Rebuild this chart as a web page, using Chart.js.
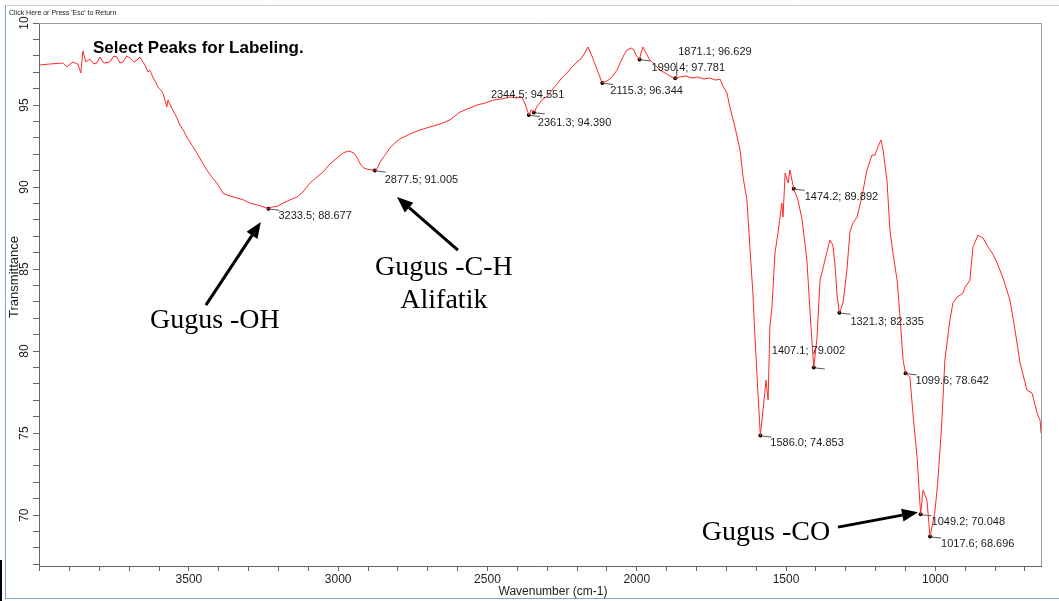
<!DOCTYPE html>
<html>
<head>
<meta charset="utf-8">
<script src="https://cdn.jsdelivr.net/npm/chart.js@4/dist/chart.umd.min.js"></script>
<style>
  html, body { margin: 0; padding: 0; background: #fff; }
  canvas { display: block; }
</style>
</head>
<body>
<canvas id="irChart" width="1059" height="601"></canvas>
<script>
// Spectrum: wavenumber (cm-1) and transmittance
const wavenumbers = [
  3999, 3966, 3922, 3909, 3889, 3872, 3862, 3855, 3845, 3832, 3818, 3808, 3798, 3785, 3765, 3751,
  3741, 3731, 3721, 3708, 3698, 3684, 3674, 3664, 3654, 3647, 3637, 3631, 3621, 3611, 3604, 3594,
  3587, 3580, 3574, 3570, 3564, 3554, 3540, 3530, 3517, 3507, 3490, 3473, 3456, 3440, 3423, 3406,
  3386, 3363, 3339, 3316, 3296, 3269, 3249, 3233.5, 3222, 3202, 3185, 3162, 3138, 3118, 3095, 3075,
  3051, 3028, 3004, 2984, 2967, 2954, 2944, 2934, 2924, 2914, 2904, 2877.5, 2870, 2860, 2843, 2827,
  2810, 2793, 2760, 2726, 2693, 2659, 2626, 2592, 2559, 2535, 2508, 2482, 2452, 2425, 2401, 2385,
  2374, 2361.3, 2354, 2344.5, 2331, 2314, 2301, 2284, 2267, 2251, 2234, 2217, 2200, 2187, 2174, 2164,
  2157, 2150, 2140, 2130, 2115.3, 2100, 2090, 2080, 2066, 2056, 2043, 2033, 2019, 2009, 2003, 1990.4,
  1986, 1979, 1969, 1956, 1939, 1922, 1905, 1889, 1871.1, 1855, 1835, 1815, 1795, 1775, 1755, 1735,
  1721, 1711, 1698, 1688, 1671, 1654, 1644, 1631, 1621, 1611, 1604, 1594, 1586.0, 1577, 1567, 1560,
  1554, 1547, 1537, 1527, 1514, 1510, 1503, 1493, 1487, 1474.2, 1460, 1446, 1436, 1430, 1420, 1407.1,
  1396, 1386, 1376, 1363, 1353, 1343, 1336, 1329, 1321.3, 1309, 1296, 1286, 1276, 1262, 1246, 1229,
  1212, 1202, 1192, 1182, 1175, 1162, 1152, 1142, 1128, 1118, 1108, 1099.6, 1085, 1075, 1061, 1049.2,
  1041, 1028, 1017.6, 1002, 992, 979, 968, 951, 941, 927, 917, 907, 900, 884, 874, 857,
  840, 823, 807, 793, 773, 750, 733, 716, 693, 676, 659, 649, 646
];
const transmittance = [
  97.44, 97.50, 97.56, 97.32, 97.62, 97.50, 96.95, 98.29, 97.62, 97.80, 97.50, 97.56, 97.93, 97.56, 97.62, 97.99,
  97.93, 97.56, 97.62, 97.99, 97.87, 97.62, 97.74, 97.93, 97.62, 97.44, 97.01, 97.13, 96.71, 96.40, 96.10, 95.91,
  95.73, 95.30, 94.88, 95.30, 95.06, 94.70, 94.21, 93.78, 93.41, 93.05, 92.56, 92.07, 91.52, 91.04, 90.61, 90.24,
  89.63, 89.45, 89.33, 89.21, 89.02, 88.90, 88.78, 88.677, 88.78, 88.84, 89.02, 89.21, 89.39, 89.70, 90.24, 90.55,
  90.91, 91.40, 91.77, 92.07, 92.20, 92.13, 92.01, 91.71, 91.34, 91.16, 91.10, 91.005, 91.10, 91.52, 91.95, 92.38,
  92.68, 92.93, 93.23, 93.48, 93.66, 93.84, 94.09, 94.57, 94.82, 95.00, 95.12, 95.30, 95.37, 95.49, 95.43, 95.49,
  95.06, 94.390, 94.70, 94.551, 95.00, 95.37, 95.49, 95.91, 96.28, 96.65, 96.95, 97.32, 97.62, 97.80, 98.17, 98.54,
  98.29, 97.99, 97.50, 97.01, 96.344, 96.46, 96.58, 96.77, 97.13, 97.56, 98.05, 98.35, 98.48, 98.35, 98.05, 97.781,
  98.17, 98.54, 98.17, 97.74, 97.44, 97.13, 96.95, 96.77, 96.629, 96.71, 96.77, 96.65, 96.71, 96.58, 96.65, 96.52,
  96.58, 96.16, 95.73, 94.88, 93.66, 92.26, 90.61, 89.21, 86.34, 83.54, 80.85, 77.44, 74.853, 76.40, 78.23, 77.01,
  81.46, 82.68, 85.98, 87.19, 89.02, 88.17, 90.85, 90.24, 91.04, 89.892, 89.21, 87.99, 86.46, 85.55, 82.50, 79.002,
  80.85, 84.33, 85.06, 86.04, 86.77, 86.46, 85.24, 83.41, 82.335, 82.93, 84.94, 87.26, 87.80, 88.17, 89.39, 91.04,
  91.95, 91.95, 92.44, 92.87, 92.26, 90.43, 87.38, 85.98, 84.33, 82.07, 79.45, 78.642, 78.41, 76.22, 73.54, 70.048,
  71.53, 70.91, 68.696, 70.12, 71.95, 75.37, 79.45, 81.89, 82.93, 83.29, 83.41, 83.54, 83.90, 84.33, 86.34, 87.07,
  86.89, 86.34, 85.91, 85.37, 84.45, 83.11, 81.28, 79.27, 77.62, 77.44, 76.22, 75.79, 75.00
];

// Labelled peaks
const peakWavenumbers = [3233.5, 2877.5, 2344.5, 2361.3, 2115.3, 1990.4, 1871.1, 1586.0, 1474.2, 1407.1, 1321.3, 1099.6, 1049.2, 1017.6];
const peakValues = [88.677, 91.005, 94.551, 94.390, 96.344, 97.781, 96.629, 74.853, 89.892, 79.002, 82.335, 78.642, 70.048, 68.696];
// pixel offset of each peak label from its dot
const labelOffsets = [[10, 7], [10, 9], [-43, -17], [9, 8], [8, 8], [12, 9], [3, -26], [10, 7], [11, 8], [-42, -16], [11, 9], [10, 8], [11, 8], [11, 7]];

// Axis
const xMin = 646, xMax = 4002, yMin = 66.9, yMax = 100;
const xLabelTicks = [3500, 3000, 2500, 2000, 1500, 1000];

// Hand written notes (positions in data units)
const noteTexts = ['Gugus -OH', 'Gugus -C-H', 'Alifatik', 'Gugus -CO'];
const noteAt = [[3413, 81.40], [2646, 84.63], [2646, 82.62], [1567, 68.48]];
const arrows = [
  [[3443, 82.80], [3259, 87.87]],
  [[2599, 86.16], [2803, 89.39]],
  [[1326, 69.27], [1058, 70.18]]
];

const SANS = '"Liberation Sans", Arial, sans-serif';
const SERIF = '"Liberation Serif", "Times New Roman", serif';

function drawArrow(ctx, x1, y1, x2, y2) {
  const ang = Math.atan2(y2 - y1, x2 - x1);
  const head = 16, half = 6.5;
  const bx = x2 - head * Math.cos(ang), by = y2 - head * Math.sin(ang);
  ctx.strokeStyle = '#000';
  ctx.lineWidth = 3;
  ctx.beginPath();
  ctx.moveTo(x1, y1);
  ctx.lineTo(bx, by);
  ctx.stroke();
  ctx.fillStyle = '#000';
  ctx.beginPath();
  ctx.moveTo(x2, y2);
  ctx.lineTo(bx + half * Math.sin(ang), by - half * Math.cos(ang));
  ctx.lineTo(bx - half * Math.sin(ang), by + half * Math.cos(ang));
  ctx.closePath();
  ctx.fill();
}

const decorPlugin = {
  id: 'decor',
  beforeDatasetsDraw(chart) {
    const ctx = chart.ctx;
    const xs = chart.scales.x, ys = chart.scales.y;
    // leader lines of peak labels
    ctx.save();
    ctx.strokeStyle = '#555';
    ctx.lineWidth = 1;
    peakWavenumbers.forEach((w, i) => {
      const px = xs.getPixelForValue(w), py = ys.getPixelForValue(peakValues[i]);
      ctx.beginPath();
      if (labelOffsets[i][1] < -20) {
        ctx.moveTo(px + 1.5, py - 2);
        ctx.lineTo(px + 1.5, py - 16);
      } else {
        ctx.moveTo(px + 2, py + 0.5);
        ctx.lineTo(px + 11, py + 1.5);
      }
      ctx.stroke();
    });
    ctx.restore();
  },
  afterDraw(chart) {
    const ctx = chart.ctx;
    const a = chart.chartArea;
    const xs = chart.scales.x, ys = chart.scales.y;
    ctx.save();

    // window frame
    ctx.lineWidth = 1;
    ctx.strokeStyle = '#d0d0d0';
    ctx.beginPath(); ctx.moveTo(5, 5.5); ctx.lineTo(1059, 5.5); ctx.stroke();
    ctx.strokeStyle = '#7ea6d6';
    ctx.beginPath(); ctx.moveTo(5.5, 5); ctx.lineTo(5.5, 598); ctx.stroke();
    ctx.beginPath(); ctx.moveTo(5, 598.5); ctx.lineTo(1059, 598.5); ctx.stroke();
    ctx.strokeStyle = '#000';
    ctx.lineWidth = 2;
    ctx.beginPath(); ctx.moveTo(1, 560); ctx.lineTo(1, 601); ctx.stroke();

    // plot frame top / right
    ctx.lineWidth = 1;
    ctx.strokeStyle = '#9a9a9a';
    ctx.beginPath();
    ctx.moveTo(a.left, a.top + 0.5);
    ctx.lineTo(a.right + 0.5, a.top + 0.5);
    ctx.lineTo(a.right + 0.5, a.bottom);
    ctx.stroke();

    ctx.fillStyle = '#222';
    ctx.font = '7px ' + SANS;
    ctx.textAlign = 'left';
    ctx.textBaseline = 'middle';
    ctx.fillText("Click Here or Press 'Esc' to Return", 9, 13);

    // rotated y tick labels
    ctx.font = '12px ' + SANS;
    ctx.textAlign = 'center';
    ys.ticks.forEach(t => {
      if (Math.abs(t.value % 5) > 1e-6) return;
      const py = ys.getPixelForValue(t.value);
      ctx.save();
      ctx.translate(25, py);
      ctx.rotate(-Math.PI / 2);
      ctx.fillText(t.value === 100 ? '10' : String(t.value), 0, 0);
      ctx.restore();
    });

    // axis titles
    ctx.save();
    ctx.font = '13px ' + SANS;
    ctx.translate(14, 277);
    ctx.rotate(-Math.PI / 2);
    ctx.fillText('Transmittance', 0, 0);
    ctx.restore();
    ctx.font = '12px ' + SANS;
    ctx.fillText('Wavenumber (cm-1)', 553, 592);

    ctx.font = 'bold 17px ' + SANS;
    ctx.textAlign = 'left';
    ctx.fillStyle = '#000';
    ctx.fillText('Select Peaks for Labeling.', 93, 48);

    // peak labels
    ctx.font = '11px ' + SANS;
    ctx.fillStyle = '#1c1c1c';
    peakWavenumbers.forEach((w, i) => {
      const px = xs.getPixelForValue(w), py = ys.getPixelForValue(peakValues[i]);
      const txt = w.toFixed(1) + '; ' + peakValues[i].toFixed(3);
      ctx.fillText(txt, px + labelOffsets[i][0], py + labelOffsets[i][1]);
    });

    // notes and arrows
    ctx.font = '28px ' + SERIF;
    ctx.textAlign = 'center';
    ctx.textBaseline = 'alphabetic';
    ctx.fillStyle = '#000';
    noteTexts.forEach((t, i) => {
      ctx.fillText(t, xs.getPixelForValue(noteAt[i][0]), ys.getPixelForValue(noteAt[i][1]));
    });
    arrows.forEach(([from, to]) => {
      drawArrow(ctx,
        xs.getPixelForValue(from[0]), ys.getPixelForValue(from[1]),
        xs.getPixelForValue(to[0]), ys.getPixelForValue(to[1]));
    });
    ctx.restore();
  }
};

new Chart(document.getElementById('irChart'), {
  type: 'line',
  data: {
    datasets: [
      {
        label: 'Spectrum',
        data: wavenumbers.map((w, i) => ({ x: w, y: transmittance[i] })),
        borderColor: 'rgb(255, 40, 40)',
        borderWidth: 1,
        pointRadius: 0,
        tension: 0
      },
      {
        label: 'Peaks',
        data: peakWavenumbers.map((w, i) => ({ x: w, y: peakValues[i] })),
        showLine: false,
        pointRadius: 2,
        pointBackgroundColor: '#000',
        pointBorderColor: '#000',
        pointBorderWidth: 0
      }
    ]
  },
  options: {
    responsive: false,
    animation: false,
    events: [],
    layout: { padding: { top: 23, right: 18, left: 0, bottom: 0 } },
    plugins: { legend: { display: false }, tooltip: { enabled: false } },
    scales: {
      x: {
        type: 'linear',
        reverse: true,
        min: xMin,
        max: xMax,
        afterFit(scale) { scale.height = 35; },
        border: { color: '#666', width: 1 },
        grid: { drawOnChartArea: false, drawTicks: true, tickLength: 5, color: '#666' },
        ticks: {
          stepSize: 100,
          includeBounds: false,
          autoSkip: false,
          maxRotation: 0,
          padding: 1,
          color: '#222',
          font: { family: SANS, size: 12 },
          callback: v => (xLabelTicks.includes(v) ? String(v) : '')
        }
      },
      y: {
        min: yMin,
        max: yMax,
        afterFit(scale) { scale.width = 39; },
        border: { color: '#666', width: 1 },
        grid: { drawOnChartArea: false, drawTicks: true, tickLength: 6, color: '#666' },
        ticks: { stepSize: 1, includeBounds: false, display: false }
      }
    }
  },
  plugins: [decorPlugin]
});
</script>
</body>
</html>
